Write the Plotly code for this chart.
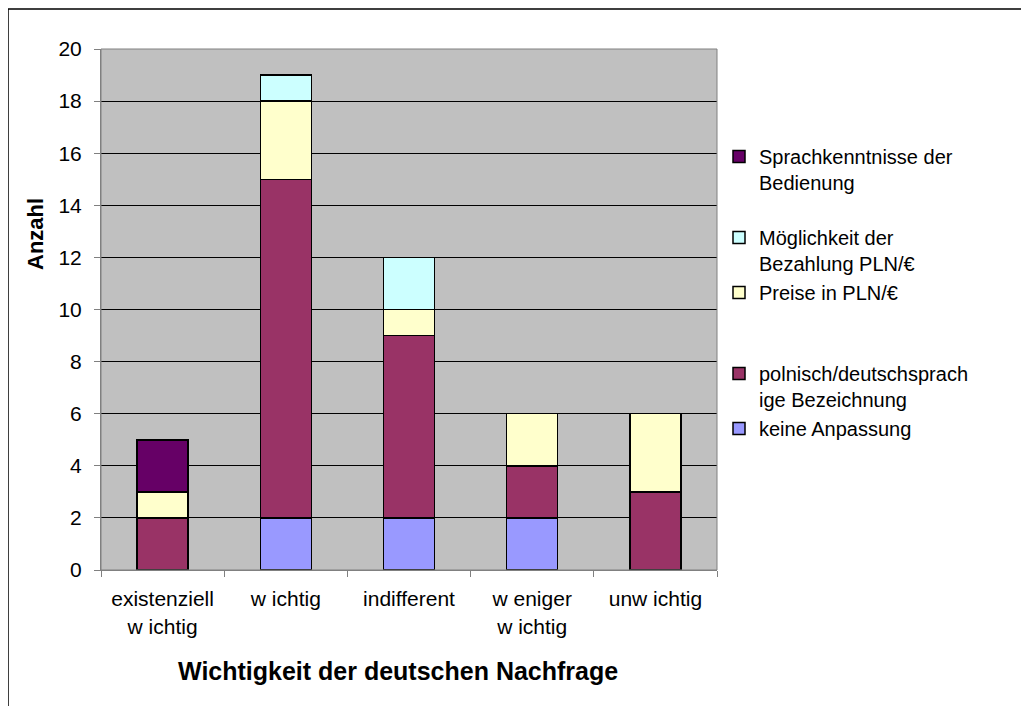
import plotly.graph_objects as go

# category labels as they appear on the chart
categories = ["existenziell<br>w ichtig", "w ichtig", "indifferent", "w eniger<br>w ichtig", "unw ichtig"]

keine_anpassung = [0, 2, 2, 2, 0]
bezeichnung = [2, 13, 7, 2, 3]
preise = [1, 3, 1, 2, 3]
bezahlung = [0, 1, 2, 0, 0]
sprachkenntnisse = [2, 0, 0, 0, 0]

series = [
    ("keine Anpassung", keine_anpassung, "#9999FF"),
    ("polnisch/deutschsprach<br>ige Bezeichnung", bezeichnung, "#993366"),
    ("Preise in PLN/€<br> <br> ", preise, "#FFFFCC"),
    ("Möglichkeit der<br>Bezahlung PLN/€", bezahlung, "#CCFFFF"),
    ("Sprachkenntnisse der<br>Bedienung<br> ", sprachkenntnisse, "#660066"),
]

FONT = "Arial, Liberation Sans, sans-serif"

# page has an 8px body margin; plot area in page pixels is x 101..717, y 49..570
OFF = 8
L, T, W, H = 101, 49, 616, 521
FIG_W, FIG_H = 1029 - OFF, 706 - OFF


def px(x):
    return (x - L) / W


def py(y):
    return (T + H - y) / H


fig = go.Figure()
for i, (name, vals, color) in enumerate(series):
    fig.add_trace(go.Bar(
        x=categories, y=vals, name=name, legendgroup=str(i),
        marker=dict(color=color, line=dict(color="black", width=1.5)),
    ))

fig.update_layout(
    barmode="stack",
    bargap=0.586,
    width=FIG_W, height=FIG_H,
    margin=dict(l=L - OFF, r=FIG_W - (L - OFF) - W, t=T - OFF, b=FIG_H - (T - OFF) - H),
    paper_bgcolor="white",
    plot_bgcolor="#C0C0C0",
    font=dict(family=FONT, color="black", size=21),
    legend=dict(
        x=px(719), y=py(137), xanchor="left", yanchor="top",
        traceorder="reversed", valign="top", tracegroupgap=0,
        font=dict(size=20), bgcolor="rgba(0,0,0,0)",
    ),
    xaxis=dict(
        showline=True, linecolor="#808080", linewidth=1,
        ticks="outside", ticklen=6, tickcolor="#808080", tickson="boundaries",
        tickfont=dict(size=21), ticklabelstandoff=10,
    ),
    yaxis=dict(
        range=[0, 20], dtick=2, showgrid=True, gridcolor="black", gridwidth=1,
        showline=True, linecolor="#808080", linewidth=1,
        ticks="outside", ticklen=6, tickcolor="#808080",
        tickfont=dict(size=21), ticklabelstandoff=8, zeroline=False,
    ),
    annotations=[
        dict(text="<b>Wichtigkeit der deutschen Nachfrage</b>", xref="paper", yref="paper",
             x=px(398), y=py(671), xanchor="center", yanchor="middle",
             showarrow=False, font=dict(size=25)),
        dict(text="<b>Anzahl</b>", xref="paper", yref="paper", textangle=-90,
             x=px(35), y=py(234), xanchor="center", yanchor="middle",
             showarrow=False, font=dict(size=22)),
    ],
    shapes=[
        # plot area frame
        dict(type="rect", xref="paper", yref="paper", x0=0, y0=0, x1=1, y1=1,
             line=dict(color="#808080", width=1), layer="above"),
        # chart frame
        dict(type="rect", xref="paper", yref="paper", x0=px(8), y0=py(730), x1=px(1045), y1=py(9),
             line=dict(color="black", width=1.5), layer="above"),
    ],
)

fig.write_html("out.html")
